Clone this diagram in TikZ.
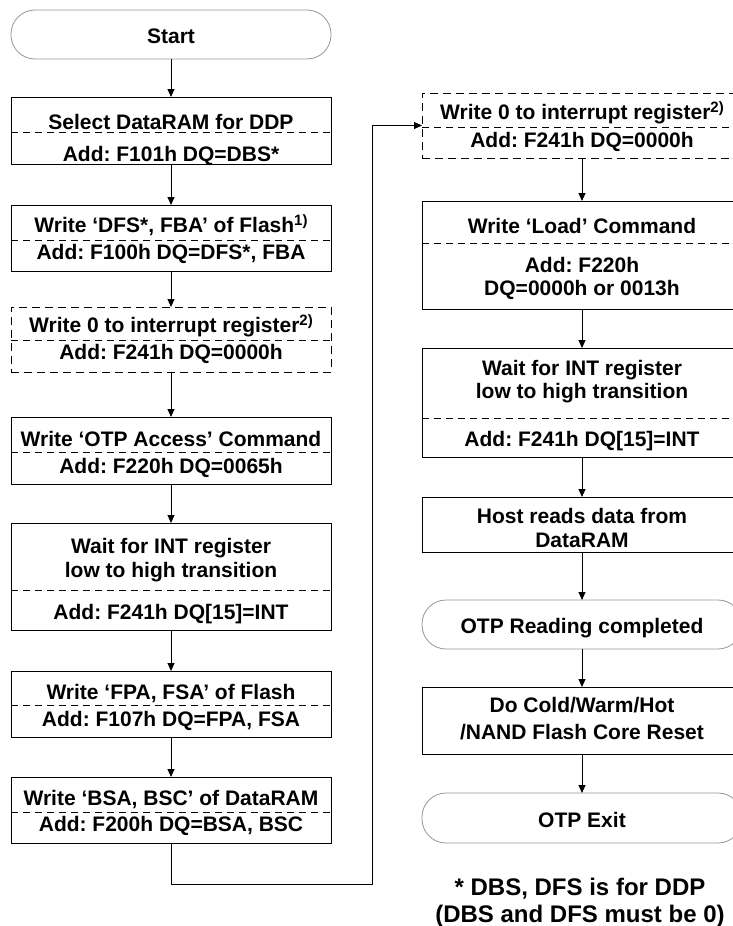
\documentclass[tikz,border=0pt]{standalone}
\usepackage{fontspec}
\setmainfont{Liberation Sans}
\usetikzlibrary{arrows.meta}
\definecolor{termgray}{RGB}{150,150,150}
\newcommand\supmark[1]{\raisebox{7pt}{\fontsize{15}{15}\selectfont\bfseries #1}}
\frenchspacing
\begin{document}
\frenchspacing
\begin{tikzpicture}[x=1pt,y=-1pt,
  box/.style={draw=black,line width=1pt,rectangle,minimum width=320pt,inner sep=0pt,outer sep=0pt,anchor=north},
  dbox/.style={box,dash pattern=on 8pt off 5pt},
  term/.style={draw=termgray,line width=0.8pt,rectangle,rounded corners=24pt,minimum width=320pt,inner sep=0pt,outer sep=0pt,anchor=north},
  txt/.style={anchor=base,inner sep=0pt,font=\fontsize{21}{24}\selectfont\bfseries\frenchspacing},
  foot/.style={anchor=base,inner sep=0pt,font=\fontsize{24}{27}\selectfont\bfseries\frenchspacing},
  sep/.style={line width=0.8pt,dash pattern=on 7pt off 5pt},
  arr/.style={line width=1pt,-{Triangle[length=8pt,width=7pt]}}
]
\useasboundingbox (0,0) rectangle (733,926);
\clip (0,0) rectangle (733,926);

% ---------- left column ----------
\node[term,minimum height=49pt] (start) at (171,10) {};
\node[txt] (tstart) at (171,43) {Start};

\node[box,minimum height=67pt] (b1) at (171,97) {};
\draw[sep] (11,132) -- (331,132);
\node[txt] (t1a) at (171,129) {Select DataRAM for DDP};
\node[txt] (t1b) at (171,161) {Add: F101h DQ=DBS*};

\node[box,minimum height=66pt] (b2) at (171,205) {};
\draw[sep] (11,240) -- (331,240);
\node[txt] (t2a) at (171,232) {Write ‘DFS*, FBA’ of Flash\supmark{1)}};
\node[txt] (t2b) at (171,259) {Add: F100h DQ=DFS*, FBA};

\node[dbox,minimum height=65pt] (b3) at (171,307) {};
\draw[sep] (11,340) -- (331,340);
\node[txt] (t3a) at (171,332) {Write 0 to interrupt register\supmark{2)}};
\node[txt] (t3b) at (171,359) {Add: F241h DQ=0000h};

\node[box,minimum height=67pt] (b4) at (171,417) {};
\draw[sep] (11,452) -- (331,452);
\node[txt] (t4a) at (171,446) {Write ‘OTP Access’ Command};
\node[txt] (t4b) at (171,473) {Add: F220h DQ=0065h};

\node[box,minimum height=107pt] (b5) at (171,523) {};
\draw[sep] (11,590) -- (331,590);
\node[txt] (t5a) at (171,553) {Wait for INT register};
\node[txt] (t5b) at (171,577) {low to high transition};
\node[txt] (t5c) at (171,619) {Add: F241h DQ[15]=INT};

\node[box,minimum height=66pt] (b6) at (171,671) {};
\draw[sep] (11,705) -- (331,705);
\node[txt] (t6a) at (171,699) {Write ‘FPA, FSA’ of Flash};
\node[txt] (t6b) at (171,726) {Add: F107h DQ=FPA, FSA};

\node[box,minimum height=66pt] (b7) at (171,777) {};
\draw[sep] (11,812) -- (331,812);
\node[txt] (t7a) at (171,805) {Write ‘BSA, BSC’ of DataRAM};
\node[txt] (t7b) at (171,831) {Add: F200h DQ=BSA, BSC};

% ---------- right column ----------
\node[dbox,minimum height=65pt] (r1) at (582,93) {};
\draw[sep] (422,127) -- (742,127);
\node[txt] (u1a) at (582,119) {Write 0 to interrupt register\supmark{2)}};
\node[txt] (u1b) at (582,147) {Add: F241h DQ=0000h};

\node[box,minimum height=108pt] (r2) at (582,201) {};
\draw[sep] (422,243) -- (742,243);
\node[txt] (u2a) at (582,233) {Write ‘Load’ Command};
\node[txt] (u2b) at (582,272) {Add: F220h};
\node[txt] (u2c) at (582,295) {DQ=0000h or 0013h};

\node[box,minimum height=109pt] (r3) at (582,348) {};
\draw[sep] (422,418) -- (742,418);
\node[txt] (u3a) at (582,375) {Wait for INT register};
\node[txt] (u3b) at (582,398) {low to high transition};
\node[txt] (u3c) at (582,446) {Add: F241h DQ[15]=INT};

\node[box,minimum height=55pt] (r4) at (582,497) {};
\node[txt] (u4a) at (582,523) {Host reads data from};
\node[txt] (u4b) at (582,547) {DataRAM};

\node[term,minimum height=49pt] (r5) at (582,600) {};
\node[txt] (u5) at (582,633) {OTP Reading completed};

\node[box,minimum height=67pt] (r6) at (582,687) {};
\node[txt] (u6a) at (582,712) {Do Cold/Warm/Hot};
\node[txt] (u6b) at (582,739) {/NAND Flash Core Reset};

\node[term,minimum height=50pt] (r7) at (582,793) {};
\node[txt] (u7) at (582,827) {OTP Exit};

\node[foot] (fa) at (580,895) {* DBS, DFS is for DDP};
\node[foot] (fb) at (580,922) {(DBS and DFS must be 0)};

% ---------- connectors ----------
\draw[arr] (start.south) -- (b1.north);
\draw[arr] (b1.south) -- (b2.north);
\draw[arr] (b2.south) -- (b3.north);
\draw[arr] (b3.south) -- (b4.north);
\draw[arr] (b4.south) -- (b5.north);
\draw[arr] (b5.south) -- (b6.north);
\draw[arr] (b6.south) -- (b7.north);
\coordinate (lp1) at (171,884);
\coordinate (lp2) at (372,884);
\draw[arr] (b7.south) -- (lp1) -- (lp2) |- (r1.west);
\draw[arr] (r1.south) -- (r2.north);
\draw[arr] (r2.south) -- (r3.north);
\draw[arr] (r3.south) -- (r4.north);
\draw[arr] (r4.south) -- (r5.north);
\draw[arr] (r5.south) -- (r6.north);
\draw[arr] (r6.south) -- (r7.north);
\end{tikzpicture}
\end{document}
